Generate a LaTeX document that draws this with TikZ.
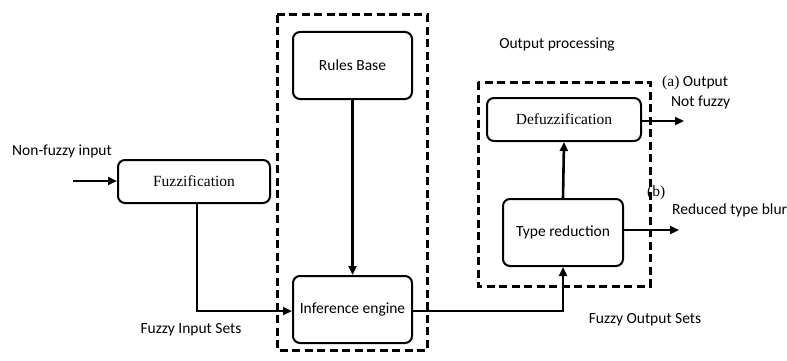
\documentclass[tikz,border=0pt]{standalone}
\usepackage{fontspec}
\setmainfont{Carlito}
\newfontfamily\tms{Liberation Serif}
\usetikzlibrary{arrows.meta}
\begin{document}
\begin{tikzpicture}[x=1pt,y=-1pt,
  every node/.style={font=\fontsize{15.5}{18}\selectfont, inner sep=0pt},
  blk/.style={draw, line width=2pt, rounded corners=7pt},
  grp/.style={draw, line width=3pt, dash pattern=on 8pt off 4.5pt},
  conn/.style={line width=2.6pt, -{Triangle[length=9pt,width=8pt]}},
  plain/.style={line width=2.6pt}]
\useasboundingbox (0,0) rectangle (787,361);
% dashed groups
\draw[grp] (277,15) rectangle (427,350);
\draw[grp] (478,82) rectangle (650,286);
% boxes
\node[blk, minimum width=152pt, minimum height=43pt] (fuzz) at (194,181.5) {\tms Fuzzification};
\node[blk, minimum width=119pt, minimum height=67pt] (rules) at (352.5,65.5) {Rules Base};
\node[blk, minimum width=119pt, minimum height=67pt] (inf) at (352.5,309.5) {Inference engine};
\node[blk, minimum width=154pt, minimum height=43pt] (defuzz) at (564,119.5) {\tms Defuzzification};
\node[blk, minimum width=120pt, minimum height=67pt] (tred) at (563,232.5) {Type reduction};
% texts
\node (nfi) at (62,151) {Non-fuzzy input};
\node (fis) at (191,330) {Fuzzy Input Sets};
\node (op) at (557,45) {Output processing};
\node (fos) at (645,320) {Fuzzy Output Sets};
\node[anchor=west] (aout) at (662,83) {{\tms (a)} Output};
\node[anchor=west] (nf) at (671,102) {Not fuzzy};
\node[anchor=west] (b) at (647,193) {\tms (b)};
\node[anchor=west] (rtb) at (672,210) {Reduced type blur};
% coordinates
\coordinate (inStart) at (73,181);
\coordinate (aEnd) at (684,121);
\coordinate (bEnd) at (679,230);
% connectors
\draw[conn] (inStart) -- (fuzz.west |- inStart);
\draw[conn] (fuzz.south -| 197,0) |- (inf.west |- 0,311);
\draw[conn] (rules.south) -- (inf.north);
\draw[conn] (inf.east |- 0,311) -| (tred.south);
\draw[conn] (tred.north) -- (defuzz.south);
\draw[conn] (defuzz.east |- aEnd) -- (aEnd);
\draw[conn] (tred.east |- bEnd) -- (bEnd);
\end{tikzpicture}
\end{document}
